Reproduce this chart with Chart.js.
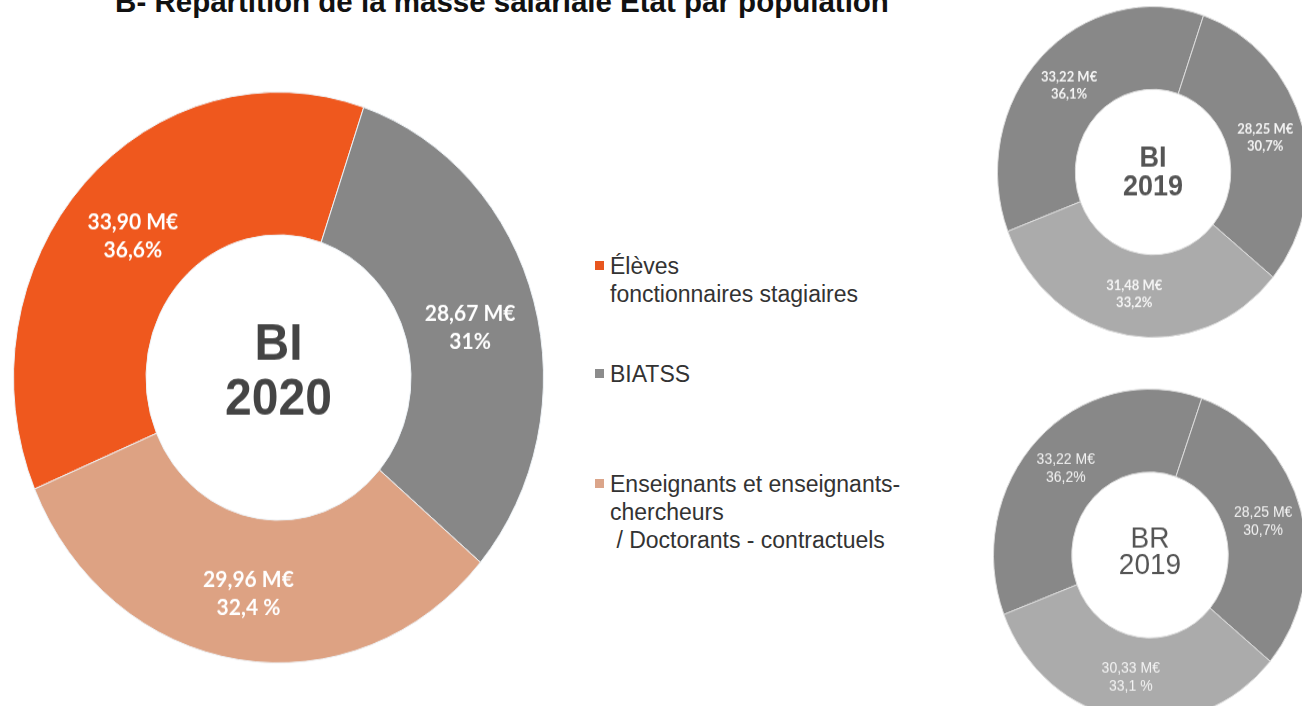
<!DOCTYPE html>
<html lang="fr">
<head>
<meta charset="utf-8">
<script src="https://cdn.jsdelivr.net/npm/chart.js@4/dist/chart.umd.min.js"></script>
<style>
  html, body { margin: 0; padding: 0; background: #ffffff; width: 1302px; height: 706px; overflow: hidden; position: relative; }
  .title { position: absolute; left: 0; width: 1004px; top: -14px; text-align: center; font: bold 29.5px "Liberation Sans", Arial, sans-serif; color: #111; white-space: nowrap; line-height: 32px; }
  .wrap { position: absolute; transform-origin: 50% 50%; }
  .legend { position: absolute; left: 595px; top: 0; font: 23px "Liberation Sans", Arial, sans-serif; color: #333; }
  .item { position: absolute; left: 0; white-space: pre; line-height: 28px; }
  .sq { position: absolute; left: 0; width: 9px; height: 9px; }
  .txt { position: absolute; left: 15px; }
</style>
</head>
<body>
<div class="title">B- Répartition de la masse salariale État par population</div>

<div class="wrap" id="wBig" style="left:13px; top:112px; width:531px; height:531px; transform: scaleY(1.077);"><canvas id="big" width="531" height="531"></canvas></div>
<div class="wrap" id="wBi19" style="left:997px; top:16px; width:312px; height:312px; transform: scaleY(1.064);"><canvas id="bi19" width="312" height="312"></canvas></div>
<div class="wrap" id="wBr19" style="left:993px; top:398px; width:314px; height:314px; transform: scaleY(1.06);"><canvas id="br19" width="314" height="314"></canvas></div>

<div class="legend" id="legend"></div>

<script>
// ---- Data ----
const categories = ["Élèves\nfonctionnaires stagiaires", "BIATSS", "Enseignants et enseignants-\nchercheurs\n / Doctorants - contractuels"];
const legendColors = ["#e8561f", "#8c8c8c", "#dba58a"];

const bi2020Pct = [36.6, 31, 32.4];
const bi2020Amounts = ["33,90 M€", "28,67 M€", "29,96 M€"];
const bi2020PctLabels = ["36,6%", "31%", "32,4 %"];
const bi2020Colors = ["#ef581e", "#878787", "#dda283"];
const bi2020Center = ["BI", "2020"];

const bi2019Pct = [36.1, 30.7, 33.2];
const bi2019Amounts = ["33,22 M€", "28,25 M€", "31,48 M€"];
const bi2019PctLabels = ["36,1%", "30,7%", "33,2%"];
const bi2019Center = ["BI", "2019"];

const br2019Pct = [36.2, 30.7, 33.1];
const br2019Amounts = ["33,22 M€", "28,25 M€", "30,33 M€"];
const br2019PctLabels = ["36,2%", "30,7%", "33,1 %"];
const br2019Center = ["BR", "2019"];

const smallColors = ["#888888", "#888888", "#ababab"];

// ---- Plugin factory: labels on arcs + centre text ----
function labelPlugin(amounts, pcts, cfg) {
  return {
    id: 'seglabels',
    afterDatasetsDraw(chart) {
      const ctx = chart.ctx;
      const meta = chart.getDatasetMeta(0);
      ctx.save();
      ctx.textAlign = 'center';
      ctx.textBaseline = 'middle';
      ctx.fillStyle = cfg.labelColor;
      ctx.font = cfg.labelFont;
      meta.data.forEach((arc, i) => {
        const p = arc.tooltipPosition();
        const lines = [amounts[i], pcts[i]];
        lines.forEach((t, j) => ctx.fillText(t, p.x + (cfg.dx ? cfg.dx[i] : 0), p.y + (j - 0.5) * cfg.labelLH + (cfg.dy ? cfg.dy[i] : 0)));
      });
      const c = meta.data[0];
      ctx.fillStyle = cfg.centerColor;
      ctx.font = cfg.centerFont;
      cfg.center.forEach((t, j) => ctx.fillText(t, c.x, c.y + (j - (cfg.center.length - 1) / 2) * cfg.centerLH + cfg.centerDy));
      ctx.restore();
    }
  };
}

function makeDonut(id, values, colors, rotation, borderColor, plugin) {
  return new Chart(document.getElementById(id), {
    type: 'doughnut',
    data: {
      labels: categories,
      datasets: [{
        data: values,
        backgroundColor: colors,
        borderColor: borderColor,
        borderWidth: 1,
        hoverOffset: 0,
        offset: 0
      }]
    },
    options: {
      responsive: false,
      animation: false,
      cutout: '50%',
      rotation: rotation,
      layout: { padding: 0 },
      events: [],
      plugins: { legend: { display: false }, tooltip: { enabled: false }, title: { display: false } }
    },
    plugins: [plugin]
  });
}

makeDonut('big', bi2020Pct, bi2020Colors, -113, '#eef3f7',
  labelPlugin(bi2020Amounts, bi2020PctLabels, {
    labelColor: '#ffffff', labelFont: 'bold 21px Lato, "DejaVu Sans", sans-serif', labelLH: 26,
    dy: [4, 7, 4],
    center: bi2020Center, centerColor: '#444444', centerFont: 'bold 48px "Liberation Sans", Arial, sans-serif', centerLH: 51, centerDy: -4
  }));

makeDonut('bi19', bi2019Pct, smallColors, -111, '#dddddd',
  labelPlugin(bi2019Amounts, bi2019PctLabels, {
    labelColor: '#f4f4f4', labelFont: 'bold 13px Lato, "DejaVu Sans", sans-serif', labelLH: 16,
    center: bi2019Center, centerColor: '#555555', centerFont: 'bold 27px "Liberation Sans", Arial, sans-serif', centerLH: 26.5, centerDy: 1
  }));

makeDonut('br19', br2019Pct, smallColors, -111, '#dddddd',
  labelPlugin(br2019Amounts, br2019PctLabels, {
    labelColor: '#f4f4f4', labelFont: '14px "Liberation Sans", Arial, sans-serif', labelLH: 17,
    center: br2019Center, centerColor: '#555555', centerFont: '28px "Liberation Sans", Arial, sans-serif', centerLH: 25, centerDy: -2
  }));

// ---- HTML legend built from the arrays ----
const legendTops = [252, 360, 470];
const legend = document.getElementById('legend');
categories.forEach((c, i) => {
  const it = document.createElement('div');
  it.className = 'item';
  it.style.top = legendTops[i] + 'px';
  const sq = document.createElement('div');
  sq.className = 'sq';
  sq.style.background = legendColors[i];
  sq.style.top = '9px';
  const tx = document.createElement('div');
  tx.className = 'txt';
  tx.textContent = c;
  it.appendChild(sq);
  it.appendChild(tx);
  legend.appendChild(it);
});
</script>
</body>
</html>
